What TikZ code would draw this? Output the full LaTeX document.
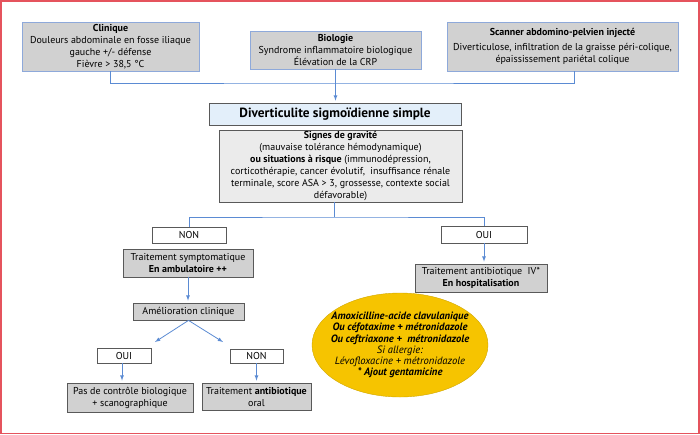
\documentclass[tikz,border=0pt]{standalone}
\usepackage{fontspec}
\setmainfont{PT Sans}
\usetikzlibrary{shapes.geometric, arrows, positioning, calc}
\definecolor{link_blue}{HTML}{5B8BD3}
\definecolor{frame_red}{HTML}{E5535D}
\definecolor{top_edge}{HTML}{8EA9DA}
\definecolor{box_gray}{HTML}{D1D1D1}
\definecolor{pale_blue}{HTML}{E3EFFA}
\definecolor{drug_yellow}{HTML}{F6C400}
\colorlet{linkblue}{link_blue}
\tikzset{
  sz/.style 2 args={minimum width=#1pt,minimum height=#2pt},
  txt/.style={font=\fontsize{10}{12}\selectfont,align=center,inner sep=1pt},
  topbox/.style={txt,rectangle,draw=top_edge,thick,fill=box_gray},
  graybox/.style={txt,rectangle,draw=black!65,thick,fill=box_gray},
  lightbox/.style={txt,rectangle,draw=black!65,thick,fill=black!8},
  answer/.style={txt,rectangle,draw=black!65,thick,fill=white},
  headbox/.style={rectangle,draw=black!65,thick,fill=pale_blue,font=\fontsize{13.3}{15}\selectfont\bfseries},
  drugs/.style={ellipse,draw=drug_yellow!85!black,fill=drug_yellow,font=\fontsize{10.6}{11.3}\selectfont\itshape,align=center,inner xsep=-8pt,inner ysep=0pt},
  link/.style={linkblue,line width=0.8pt},
  arrowlink/.style={link,-latex,shorten >=2pt},
  frame/.style={draw=frame_red,line width=1.5pt},
}

\begin{document}
\begin{tikzpicture}[x=1pt,y=-1pt]
	\useasboundingbox (0,0) rectangle (700,434);
	\draw[frame] (0.75,0.75) rectangle (698.75,433.25);
	% examens
	\node[topbox,sz={177}{49}] (clin) at (110.5,46.5)
		{\textbf{Clinique}\\Douleurs abdominale en fosse iliaque\\gauche +/- défense\\Fièvre > 38,5 °C};
	\node[topbox,sz={171}{38}] (bio) at (335.5,50)
		{\textbf{Biologie}\\Syndrome inflammatoire biologique\\Élévation de la CRP};
	\node[topbox,sz={231}{49}] (scan) at (562.5,46.5)
		{\textbf{Scanner abdomino-pelvien injecté}\\[3pt]Diverticulose, infiltration de la graisse péri-colique,\\épaississement pariétal colique};
	\node[headbox,sz={252}{22}] (divert) at (335,114) {Diverticulite sigmoïdienne simple};
	\node[lightbox,sz={243}{72}] (signes) at (340.5,166)
		{\textbf{Signes de gravité}\\(mauvaise tolérance hémodynamique)\\\textbf{ou situations à risque} (immunodépression,\\corticothérapie, cancer évolutif,\ \ insuffisance rénale\\terminale, score ASA > 3, grossesse, contexte social\\défavorable)};
	% branche NON
	\node[answer,sz={74}{16}] (non1) at (189,235) {NON};
	\node[graybox,sz={130}{28}] (ttsym) at (188,263) {Traitement symptomatique\\\textbf{En ambulatoire ++}};
	\node[graybox,sz={111}{17}] (amel) at (188.5,311.5) {Amélioration clinique};
	\node[answer,sz={54}{15}] (oui2) at (124,355.5) {OUI};
	\node[answer,sz={53}{14}] (non2) at (256.5,356) {NON};
	\node[graybox,sz={126}{29}] (pas) at (130,397.5) {Pas de contrôle biologique\\+ scanographique};
	\node[graybox,sz={109}{27}] (oral) at (256.5,396.5) {Traitement \textbf{antibiotique}\\oral};
	% branche OUI
	\node[answer,sz={86}{17}] (oui1) at (484,234.5) {OUI};
	\node[graybox,sz={132}{28}] (ttiv) at (481,278) {Traitement antibiotique\ \ IV*\\\textbf{En hospitalisation}};
	\node[drugs,sz={176}{104}] (abx) at (400,345)
		{\textbf{Amoxicilline-acide clavulanique}\\\textbf{Ou céfotaxime + métronidazole}\\\textbf{Ou ceftriaxone +\ \ métronidazole}\\Si allergie:\\Lévofloxacine + métronidazole\\\textbf{* Ajout gentamicine}};
	% liens
	\coordinate (scanfoot) at ($(scan.south)+(11.5,0)$);
	\coordinate (join) at (335,83);
	\coordinate (split) at (334,217);
	\coordinate (ouitip) at (155,342);
	\coordinate (nontip) at (223,342);
	\draw[link] (clin.south) |- (join) -| (scanfoot);
	\draw[arrowlink] (bio.south) -- (bio.south |- divert.north);
	\draw[link] (split |- signes.south) -- (split);
	\draw[link] (non1.north) |- (split) -| (oui1.north);
	\draw[arrowlink] (ttsym.south) -- (ttsym.south |- amel.north);
	\draw[arrowlink] (oui1.south) -- (oui1.south |- ttiv.north);
	\draw[link,-latex] (amel.south) -- (ouitip);
	\draw[link,-latex] (amel.south) -- (nontip);
	\draw[arrowlink] ($(oui2.south)+(-2,0)$) -- ($(pas.north)+(-8,0)$);
	\draw[arrowlink] (non2.south) -- (non2.south |- oral.north);
\end{tikzpicture}
\end{document}
